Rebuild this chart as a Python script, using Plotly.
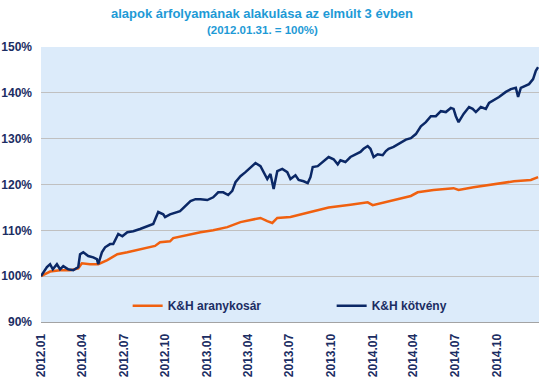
import plotly.graph_objects as go

# ---- data ----
kotveny_dates = [
    "2012-01-31", "2012-02-13", "2012-02-20", "2012-02-26", "2012-03-06", "2012-03-13",
    "2012-03-20", "2012-03-31", "2012-04-11", "2012-04-22", "2012-04-26", "2012-05-03",
    "2012-05-14", "2012-05-25", "2012-06-02", "2012-06-05", "2012-06-13", "2012-06-20",
    "2012-07-01", "2012-07-08", "2012-07-19", "2012-07-28", "2012-08-08", "2012-08-21",
    "2012-09-05", "2012-09-21", "2012-10-04", "2012-10-15", "2012-10-26", "2012-10-30",
    "2012-11-10", "2012-12-02", "2012-12-14", "2012-12-25", "2013-01-05", "2013-01-16",
    "2013-01-31", "2013-02-13", "2013-02-24", "2013-03-07", "2013-03-18", "2013-03-27",
    "2013-04-03", "2013-04-14", "2013-04-25", "2013-05-06", "2013-05-17", "2013-05-28",
    "2013-06-04", "2013-06-12", "2013-06-19", "2013-06-26", "2013-07-04", "2013-07-15",
    "2013-07-26", "2013-08-02", "2013-08-13", "2013-08-20", "2013-08-31", "2013-09-09",
    "2013-09-15", "2013-09-20", "2013-10-01", "2013-10-12", "2013-10-25", "2013-11-05",
    "2013-11-14", "2013-11-20", "2013-12-01", "2013-12-12", "2013-12-23", "2014-01-03",
    "2014-01-10", "2014-01-19", "2014-01-25", "2014-02-01", "2014-02-10", "2014-02-21",
    "2014-02-28", "2014-03-06", "2014-03-17", "2014-03-28", "2014-04-13", "2014-04-24",
    "2014-05-05", "2014-05-16", "2014-05-27", "2014-06-07", "2014-06-18", "2014-06-29",
    "2014-07-10", "2014-07-21", "2014-07-27", "2014-08-01", "2014-08-07", "2014-08-18",
    "2014-08-30", "2014-09-07", "2014-09-14", "2014-09-25", "2014-10-06", "2014-10-13",
    "2014-10-24", "2014-11-04", "2014-11-19", "2014-11-30", "2014-12-11", "2014-12-16",
    "2014-12-22", "2015-01-02", "2015-01-09", "2015-01-18", "2015-01-24", "2015-01-29",
]
kotveny_values = [
    100.0, 102.0, 102.6, 101.5, 102.6, 101.5,
    102.2, 101.5, 101.3, 102.0, 104.8, 105.2,
    104.4, 104.1, 103.7, 102.6, 105.2, 106.3,
    107.0, 107.0, 109.2, 108.7, 109.6, 109.8,
    110.3, 110.9, 111.4, 114.0, 113.5, 112.9,
    113.5, 114.2, 115.3, 116.4, 116.8, 116.8,
    116.6, 117.2, 118.3, 118.3, 117.7, 118.6,
    120.5, 121.8, 122.7, 123.8, 124.7, 124.0,
    122.7, 121.2, 122.3, 119.0, 122.9, 123.4,
    122.7, 121.2, 122.0, 121.0, 120.7, 120.3,
    121.6, 123.8, 124.0, 124.9, 126.0, 125.5,
    124.4, 125.3, 124.9, 126.0, 126.6, 127.1,
    127.8, 128.4, 127.8, 126.0, 126.6, 126.4,
    127.3, 127.8, 128.2, 128.9, 129.8, 130.1,
    131.0, 132.7, 133.6, 134.9, 134.9, 136.0,
    135.8, 136.7, 136.5, 134.9, 133.6, 135.4,
    136.9, 136.5, 135.8, 136.9, 136.5, 137.8,
    138.4, 139.1, 140.2, 140.8, 141.1, 139.1,
    141.1, 141.5, 141.9, 143.0, 144.8, 145.6,
]

arany_dates = [
    "2012-01-31", "2012-02-20", "2012-03-13", "2012-04-04", "2012-04-22", "2012-04-30",
    "2012-05-18", "2012-06-05", "2012-06-25", "2012-07-17", "2012-08-08", "2012-08-30",
    "2012-09-21", "2012-10-08", "2012-10-19", "2012-11-10", "2012-11-17", "2012-12-18",
    "2013-01-16", "2013-02-13", "2013-03-16", "2013-04-14", "2013-05-12", "2013-05-28",
    "2013-06-12", "2013-06-23", "2013-07-04", "2013-08-02", "2013-09-15", "2013-10-25",
    "2013-12-12", "2014-01-19", "2014-01-30", "2014-03-11", "2014-04-24", "2014-05-09",
    "2014-06-13", "2014-07-27", "2014-08-07", "2014-09-09", "2014-10-24", "2014-12-07",
    "2015-01-13", "2015-01-20", "2015-01-29",
]
arany_values = [
    100.0, 101.0, 101.3, 101.3, 101.7, 102.8,
    102.6, 102.6, 103.5, 104.8, 105.2, 105.7,
    106.1, 106.6, 107.4, 107.6, 108.3, 109.0,
    109.6, 110.0, 110.7, 111.8, 112.4, 112.7,
    112.0, 111.6, 112.7, 112.9, 114.0, 115.0,
    115.6, 116.1, 115.5, 116.5, 117.5, 118.3,
    118.8, 119.2, 118.8, 119.4, 120.1, 120.7,
    121.0, 121.2, 121.6,
]

tick_dates = [
    "2012-01-31", "2012-04-30", "2012-07-31", "2012-10-31",
    "2013-01-31", "2013-04-30", "2013-07-31", "2013-10-31",
    "2014-01-31", "2014-04-30", "2014-07-31", "2014-10-31",
]
tick_labels = [
    "2012.01", "2012.04", "2012.07", "2012.10",
    "2013.01", "2013.04", "2013.07", "2013.10",
    "2014.01", "2014.04", "2014.07", "2014.10",
]
y_ticks = [90, 100, 110, 120, 130, 140, 150]
y_tick_labels = ["90%", "100%", "110%", "120%", "130%", "140%", "150%"]

series_names = ["K&H aranykosár", "K&H kötvény"]
title_line1 = "alapok árfolyamának alakulása az elmúlt 3 évben"
title_line2 = "(2012.01.31. = 100%)"

# ---- styling ----
FONT = "Liberation Sans, Arial, sans-serif"
NAVY_TXT = "#1b2d63"
TITLE_C = "#1e9ad6"
ORANGE = "#f0600f"
NAVY = "#0b2866"

fig = go.Figure()
fig.add_trace(go.Scatter(x=arany_dates, y=arany_values, mode="lines",
                         name=series_names[0],
                         line=dict(color=ORANGE, width=2.5)))
fig.add_trace(go.Scatter(x=kotveny_dates, y=kotveny_values, mode="lines",
                         name=series_names[1],
                         line=dict(color=NAVY, width=2.5)))

fig.update_layout(
    width=555, height=377,
    margin=dict(l=41, r=16, t=47, b=55),
    paper_bgcolor="white",
    plot_bgcolor="#dcebfa",
    font=dict(family=FONT, color=NAVY_TXT),
    showlegend=True,
    legend=dict(
        orientation="h",
        x=0.174, y=0.059, xanchor="left", yanchor="middle",
        bgcolor="rgba(0,0,0,0)",
        font=dict(family=FONT, size=12, color=NAVY_TXT, weight="bold"),
        entrywidth=159, entrywidthmode="pixels",
        traceorder="normal",
    ),
    annotations=[
        dict(text=title_line1, xref="paper", yref="paper",
             x=0.4438, y=1.1218, xanchor="center", yanchor="middle",
             showarrow=False,
             font=dict(family=FONT, size=13, color=TITLE_C, weight="bold")),
        dict(text=title_line2, xref="paper", yref="paper",
             x=0.4438, y=1.0618, xanchor="center", yanchor="middle",
             showarrow=False,
             font=dict(family=FONT, size=11.5, color=TITLE_C, weight="bold")),
    ],
)

fig.update_xaxes(
    type="date",
    range=["2012-01-31", "2015-01-31"],
    tickvals=tick_dates, ticktext=tick_labels,
    tickangle=-90,
    tickfont=dict(family=FONT, size=12, color=NAVY_TXT, weight="bold"),
    showgrid=False, zeroline=False,
    showline=True, linecolor="#a3a3a3", linewidth=1,
    ticks="", ticklabelstandoff=6,
    automargin=False,
)
fig.update_yaxes(
    range=[90, 150],
    tickvals=y_ticks, ticktext=y_tick_labels,
    tickfont=dict(family=FONT, size=12, color=NAVY_TXT, weight="bold"),
    showgrid=True, gridcolor="#c0c0c0", gridwidth=1,
    zeroline=False, showline=False, ticks="",
    ticklabelstandoff=8,
    automargin=False,
)

fig.write_html("out.html", config={"displayModeBar": False},
               post_script="document.body.style.margin='0';")
